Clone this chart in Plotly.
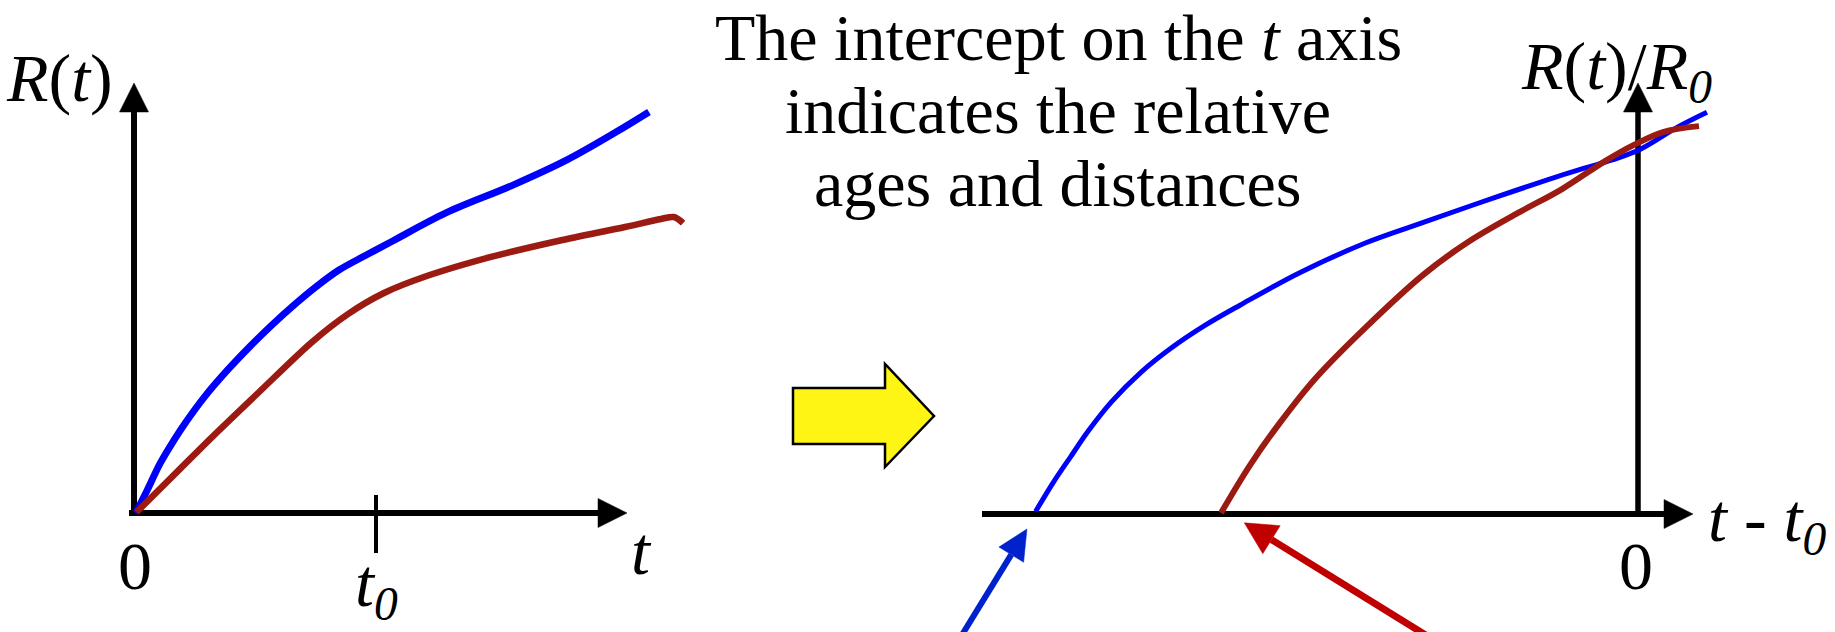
import math
import plotly.graph_objects as go

W, H = 1835, 632
FONT = "Liberation Serif"
FS = 68

# ---------------- data ----------------
# Left panel: R(t) versus t (t0 = 1 unit)
left_blue_t = [0.007, 0.053, 0.109, 0.164, 0.219, 0.293, 0.386, 0.478, 0.570, 0.662, 0.755, 0.847,
               0.958, 1.069, 1.289, 1.566, 1.789, 1.992, 2.128]
left_blue_R = [0.000, 0.091, 0.207, 0.299, 0.382, 0.482, 0.590, 0.687, 0.777, 0.860, 0.937, 1.004,
               1.065, 1.124, 1.240, 1.355, 1.459, 1.574, 1.657]
left_red_t = [0.010, 0.182, 0.331, 0.517, 0.736, 0.884, 1.033, 1.198, 1.475, 1.752, 2.029, 2.178, 2.231, 2.269]
left_red_R = [0.003, 0.174, 0.322, 0.500, 0.707, 0.822, 0.909, 0.975, 1.058, 1.124, 1.182, 1.215, 1.223, 1.198]
left_tick_t0 = 1.0

# Right panel: R(t)/R0 versus t - t0
right_blue_x = [-2.489, -2.416, -2.344, -2.271, -2.174, -2.054, -1.933, -1.788, -1.643, -1.400, -1.124,
                -0.884, -0.587, -0.285, -0.107, 0.012, 0.165, 0.285]
right_blue_y = [0.007, 0.086, 0.156, 0.226, 0.306, 0.385, 0.449, 0.513, 0.568, 0.655, 0.737,
                0.793, 0.861, 0.927, 0.962, 0.992, 1.052, 1.092]
right_red_x = [-1.723, -1.603, -1.483, -1.335, -1.124, -0.884, -0.702, -0.496, -0.314, -0.136, -0.017, 0.103, 0.252]
right_red_y = [0.003, 0.133, 0.245, 0.367, 0.508, 0.652, 0.739, 0.818, 0.883, 0.959, 1.003, 1.038, 1.054]

# pointer arrows (right panel units): tip and tail
blue_pointer_tip = (-2.525, -0.041)
blue_pointer_tail = (-2.806, -0.342)
red_pointer_tip = (-1.627, -0.024)
red_pointer_tail = (-0.845, -0.342)

title_lines = ["The intercept on the <i>t</i> axis", "indicates the relative", "ages and distances"]

# ---------------- geometry (pixel mapping of the two panels) ----------------
L_OX, L_OY, L_SX, L_SY = 134, 513, 242, 242
R_OX, R_OY, R_SX, R_SY = 1638, 514, 242, 368


def lpx(t, r):
    return (L_OX + t * L_SX, L_OY - r * L_SY)


def rpx(x, y):
    return (R_OX + x * R_SX, R_OY - y * R_SY)


def paper(p):
    return (p[0] / W, 1 - p[1] / H)


def tri_path(tip, tail, length, width):
    dx, dy = tip[0] - tail[0], tip[1] - tail[1]
    n = math.hypot(dx, dy)
    ux, uy = dx / n, dy / n
    bx, by = tip[0] - ux * length, tip[1] - uy * length
    px_, py_ = -uy * width / 2, ux * width / 2
    pts = [tip, (bx + px_, by + py_), (bx - px_, by - py_)]
    pp = [paper(p) for p in pts]
    return "M {} {} L {} {} L {} {} Z".format(pp[0][0], pp[0][1], pp[1][0], pp[1][1], pp[2][0], pp[2][1]), (bx, by)


fig = go.Figure()

fig.add_trace(go.Scatter(x=left_blue_t, y=left_blue_R, mode="lines",
                         line=dict(color="#0000FF", width=7, shape="spline", smoothing=1.0),
                         xaxis="x", yaxis="y", hoverinfo="skip"))
fig.add_trace(go.Scatter(x=left_red_t, y=left_red_R, mode="lines",
                         line=dict(color="#9B1B12", width=6.5, shape="spline", smoothing=0.9),
                         xaxis="x", yaxis="y", hoverinfo="skip"))
fig.add_trace(go.Scatter(x=right_blue_x, y=right_blue_y, mode="lines",
                         line=dict(color="#0000FF", width=5, shape="spline", smoothing=1.0),
                         xaxis="x2", yaxis="y2", hoverinfo="skip"))
fig.add_trace(go.Scatter(x=right_red_x, y=right_red_y, mode="lines",
                         line=dict(color="#9B1B12", width=6, shape="spline", smoothing=1.0),
                         xaxis="x2", yaxis="y2", hoverinfo="skip"))

shapes = []


def line_shape(p0, p1, w, color="black"):
    a, b = paper(p0), paper(p1)
    shapes.append(dict(type="line", xref="paper", yref="paper", x0=a[0], y0=a[1], x1=b[0], y1=b[1],
                       line=dict(color=color, width=w), layer="below"))


def arrow(tail, tip, w, color, hl, hw):
    path, base = tri_path(tip, tail, hl, hw)
    line_shape(tail, base, w, color)
    shapes.append(dict(type="path", xref="paper", yref="paper", path=path,
                       fillcolor=color, line=dict(color=color, width=0.5), layer="above"))


# left axes
arrow((L_OX - 5, L_OY), (627, L_OY), 6, "black", 29, 29)
arrow((L_OX, L_OY + 3), (L_OX, 83), 6, "black", 29, 29)
tk = lpx(left_tick_t0, 0)
line_shape((tk[0], 495), (tk[0], 553), 4)

# right axes
arrow((982, R_OY), (1693, R_OY), 6, "black", 29, 29)
arrow((R_OX, R_OY), (R_OX, 83), 5.5, "black", 29, 29)

# pointer arrows
arrow(rpx(*blue_pointer_tail), rpx(*blue_pointer_tip), 6, "#0022CC", 30, 29)
arrow(rpx(*red_pointer_tail), rpx(*red_pointer_tip), 7, "#C00000", 32, 33)

# yellow block arrow
ya = [(793, 388), (885, 388), (885, 364), (934, 416), (885, 467), (885, 444), (793, 444)]
yp = [paper(p) for p in ya]
shapes.append(dict(type="path", xref="paper", yref="paper",
                   path="M " + " L ".join("{} {}".format(a, b) for a, b in yp) + " Z",
                   fillcolor="#FFF514", line=dict(color="black", width=2.5)))

annotations = []


def label(text, x, y, size=FS, xanchor="center"):
    p = paper((x, y))
    annotations.append(dict(text=text, x=p[0], y=p[1], xref="paper", yref="paper",
                            showarrow=False, xanchor=xanchor, yanchor="middle",
                            font=dict(family=FONT, size=size, color="black")))


label("<i>R</i>(<i>t</i>)", 59, 78)
label("0", 135, 566)
label("<i>t</i>", 641, 551)
label("<i>t</i><sub><i>0</i></sub>", 376, 587)
label("<i>R</i>(<i>t</i>)/<i>R</i><sub><i>0</i></sub>", 1616, 70)
label("<i>t</i> - <i>t</i><sub><i>0</i></sub>", 1767, 522)
label("0", 1636, 566)
for txt, yy in zip(title_lines, [38, 110, 183]):
    label(txt, 1058, yy, size=66)

L_xr = [(0 - L_OX) / L_SX, (W - L_OX) / L_SX]
L_yr = [(L_OY - H) / L_SY, L_OY / L_SY]
R_xr = [(0 - R_OX) / R_SX, (W - R_OX) / R_SX]
R_yr = [(R_OY - H) / R_SY, R_OY / R_SY]

fig.update_layout(
    width=W, height=H,
    margin=dict(l=0, r=0, t=0, b=0),
    paper_bgcolor="white", plot_bgcolor="rgba(0,0,0,0)",
    showlegend=False,
    xaxis=dict(domain=[0, 1], range=L_xr, visible=False, anchor="y"),
    yaxis=dict(domain=[0, 1], range=L_yr, visible=False, anchor="x"),
    xaxis2=dict(domain=[0, 1], range=R_xr, visible=False, anchor="y2", overlaying="x"),
    yaxis2=dict(domain=[0, 1], range=R_yr, visible=False, anchor="x2", overlaying="y"),
    shapes=shapes,
    annotations=annotations,
)

fig.write_html("out.html", config={"displayModeBar": False},
               post_script="document.body.style.margin='0px';document.body.style.overflow='hidden';")
